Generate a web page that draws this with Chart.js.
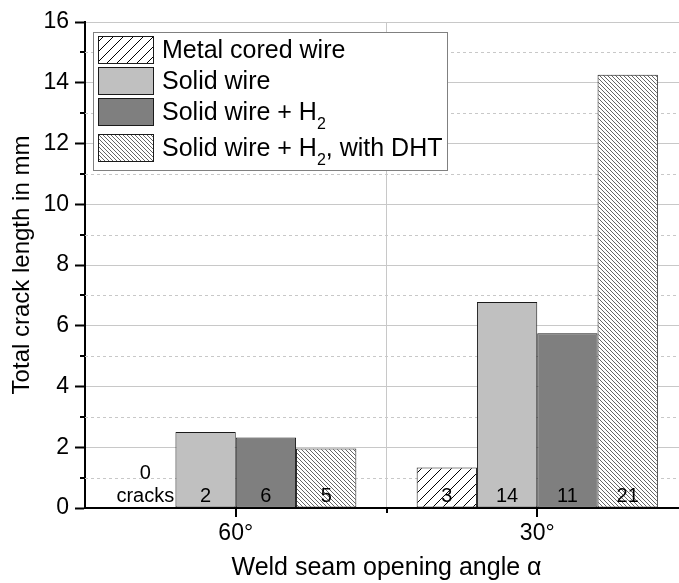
<!DOCTYPE html>
<html>
<head>
<meta charset="utf-8">
<script src="https://cdn.jsdelivr.net/npm/chart.js@4/dist/chart.umd.min.js"></script>
<style>
  html, body { margin: 0; padding: 0; background: #fff; overflow: hidden; }
  #wrap { position: absolute; left: 0; top: 0; width: 700px; height: 583px; }
</style>
</head>
<body>
<div id="wrap"><canvas id="c" width="700" height="583"></canvas></div>
<script>
// ---- data ----
const categories = ['60°', '30°'];
const seriesLabels = ['Metal cored wire', 'Solid wire', 'Solid wire + H₂', 'Solid wire + H₂, with DHT'];
const metalCoredWire = [0, 1.33];
const solidWire = [2.50, 6.78];
const solidWireH2 = [2.32, 5.75];
const solidWireH2DHT = [1.96, 14.26];
const metalCoredCracks = [0, 3];
const solidWireCracks = [2, 14];
const solidWireH2Cracks = [6, 11];
const solidWireH2DHTCracks = [5, 21];
const yTicks = [0, 2, 4, 6, 8, 10, 12, 14, 16];

const FONT = '"Liberation Sans", Arial, sans-serif';

function makeHatch(size, dir, lw, color) {
  const c = document.createElement('canvas');
  c.width = size; c.height = size;
  const g = c.getContext('2d');
  g.fillStyle = '#fff';
  g.fillRect(0, 0, size, size);
  g.strokeStyle = color;
  g.lineWidth = lw;
  g.beginPath();
  if (dir === '/') {
    g.moveTo(-1, size + 1); g.lineTo(size + 1, -1);
    g.moveTo(-1, 1); g.lineTo(1, -1);
    g.moveTo(size - 1, size + 1); g.lineTo(size + 1, size - 1);
  } else {
    g.moveTo(-1, -1); g.lineTo(size + 1, size + 1);
    g.moveTo(size - 1, -1); g.lineTo(size + 1, 1);
    g.moveTo(-1, size - 1); g.lineTo(1, size + 1);
  }
  g.stroke();
  return g.createPattern(c, 'repeat');
}

const hatchFwd = makeHatch(10, '/', 1, '#000');
const hatchBack = makeHatch(4, '\\', 0.7, '#222');

const fills = [hatchFwd, '#c0c0c0', '#7f7f7f', hatchBack];
const valueSets = [metalCoredWire, solidWire, solidWireH2, solidWireH2DHT];
const crackSets = [metalCoredCracks, solidWireCracks, solidWireH2Cracks, solidWireH2DHTCracks];

const datasets = valueSets.map((vals, i) => ({
  label: seriesLabels[i],
  data: vals,
  cracks: crackSets[i],
  backgroundColor: fills[i],
  borderColor: '#1a1a1a',
  borderWidth: 1,
  borderSkipped: false,
  categoryPercentage: 0.8,
  barPercentage: 1.0
}));

// draw text with "₂" rendered as subscript
function drawSubText(ctx, text, x, y, size) {
  const parts = text.split('₂');
  let cx = x;
  parts.forEach((p, idx) => {
    ctx.font = size + 'px ' + FONT;
    ctx.fillText(p, cx, y);
    cx += ctx.measureText(p).width;
    if (idx < parts.length - 1) {
      ctx.font = Math.round(size * 0.65) + 'px ' + FONT;
      ctx.fillText('2', cx, y + 9);
      cx += ctx.measureText('2').width;
    }
  });
}

const extras = {
  id: 'extras',
  afterDatasetsDraw(chart) {
    const ctx = chart.ctx;
    const ys = chart.scales.y, xs = chart.scales.x;
    const area = chart.chartArea;
    ctx.save();
    // minor y ticks
    ctx.strokeStyle = '#000';
    ctx.lineWidth = 2;
    for (let v = 1; v < 16; v += 2) {
      const py = Math.round(ys.getPixelForValue(v));
      ctx.beginPath(); ctx.moveTo(area.left - 5, py); ctx.lineTo(area.left, py); ctx.stroke();
    }
    // x ticks
    categories.forEach((c, i) => {
      const px = Math.round(xs.getPixelForValue(i));
      ctx.beginPath(); ctx.moveTo(px, area.bottom); ctx.lineTo(px, area.bottom + 9); ctx.stroke();
    });
    for (let i = 0; i < categories.length - 1; i++) {
      const px = Math.round((xs.getPixelForValue(i) + xs.getPixelForValue(i + 1)) / 2);
      ctx.beginPath(); ctx.moveTo(px, area.bottom); ctx.lineTo(px, area.bottom + 5); ctx.stroke();
    }
    // crack count labels
    ctx.fillStyle = '#000';
    ctx.textAlign = 'center';
    ctx.textBaseline = 'alphabetic';
    ctx.font = '20px ' + FONT;
    chart.data.datasets.forEach((ds, di) => {
      const meta = chart.getDatasetMeta(di);
      meta.data.forEach((bar, j) => {
        const n = ds.cracks[j];
        const base = bar.base;
        if (n === 0) {
          ctx.fillText(String(n), bar.x, base - 29);
          ctx.fillText('cracks', bar.x, base - 6);
        } else {
          ctx.fillText(String(n), bar.x, base - 6);
        }
      });
    });
    // legend
    const lx = 93, ly = 32, lw = 354, lh = 138;
    ctx.fillStyle = '#fff';
    ctx.fillRect(lx, ly, lw, lh);
    ctx.strokeStyle = '#808080';
    ctx.lineWidth = 1;
    ctx.strokeRect(lx + 0.5, ly + 0.5, lw, lh);
    const swY = [36, 67, 98, 134];
    ctx.textAlign = 'left';
    chart.data.datasets.forEach((ds, di) => {
      const sy = swY[di];
      ctx.fillStyle = ds.backgroundColor;
      ctx.fillRect(98, sy, 55, 27);
      ctx.strokeStyle = '#1a1a1a';
      ctx.lineWidth = 1;
      ctx.strokeRect(98.5, sy + 0.5, 55, 27);
      ctx.fillStyle = '#000';
      drawSubText(ctx, ds.label, 162, sy + 22, 25);
    });
    ctx.restore();
  }
};

new Chart(document.getElementById('c'), {
  type: 'bar',
  data: { labels: categories, datasets },
  options: {
    responsive: false,
    devicePixelRatio: 1,
    animation: false,
    layout: { padding: { left: 0, right: 12, top: 22, bottom: 0 } },
    plugins: { legend: { display: false }, tooltip: { enabled: false } },
    scales: {
      x: {
        grid: { offset: true, drawTicks: false, color: '#c8c8c8', lineWidth: 1 },
        border: { display: true, color: '#000', width: 2 },
        ticks: { color: '#000', font: { family: FONT, size: 23 }, padding: 12 },
        title: { display: true, text: 'Weld seam opening angle α', color: '#000',
                 font: { family: FONT, size: 25, lineHeight: 1.2 }, padding: { top: 0, bottom: 0 } },
        afterFit: s => { s.height = 75; }
      },
      y: {
        min: 0, max: 16,
        afterBuildTicks: s => { s.ticks = yTicks.map(v => ({ value: v })); },
        ticks: { color: '#000', font: { family: FONT, size: 23 }, padding: 6 },
        grid: { color: '#c8c8c8', lineWidth: 1, drawTicks: true, tickLength: 10, tickColor: '#000', tickWidth: 2 },
        border: { display: true, color: '#000', width: 2 },
        title: { display: true, text: 'Total crack length in mm', color: '#000',
                 font: { family: FONT, size: 24, lineHeight: 1.2 }, padding: { top: 8, bottom: 0 } },
        afterFit: s => { s.width = 85; }
      }
    }
  },
  plugins: [{
    id: 'minorGrid',
    beforeDatasetsDraw(chart) {
      const ctx = chart.ctx, ys = chart.scales.y, a = chart.chartArea;
      ctx.save();
      ctx.strokeStyle = '#c8c8c8';
      ctx.lineWidth = 1;
      ctx.setLineDash([3, 3]);
      for (let v = 1; v < 16; v += 2) {
        const py = Math.round(ys.getPixelForValue(v)) + 0.5;
        ctx.beginPath(); ctx.moveTo(a.left, py); ctx.lineTo(a.right, py); ctx.stroke();
      }
      ctx.restore();
    }
  }, extras]
});
</script>
</body>
</html>
